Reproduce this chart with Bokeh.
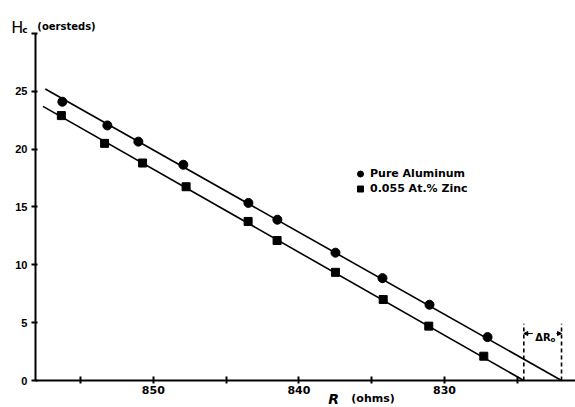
from bokeh.plotting import figure
from bokeh.models import (Range1d, FixedTicker, Label, Legend, LegendItem,
                          Arrow, NormalHead)
from bokeh.embed import file_html
from bokeh.resources import INLINE

# ---- data ----
pure_r = [856.25, 853.16, 851.03, 847.94, 843.47, 841.48, 837.49, 834.26, 831.03, 827.04]
pure_hc = [24.1, 22.05, 20.65, 18.65, 15.35, 13.9, 11.05, 8.85, 6.55, 3.75]
zinc_r = [856.32, 853.35, 850.74, 847.75, 843.49, 841.50, 837.49, 834.21, 831.08, 827.30]
zinc_hc = [22.9, 20.5, 18.8, 16.75, 13.75, 12.1, 9.35, 7.0, 4.7, 2.1]

# fitted straight lines (end points as drawn)
pure_fit_r = [857.42, 821.96]
pure_fit_hc = [25.2, 0.0]
zinc_fit_r = [857.58, 824.55]
zinc_fit_hc = [23.7, 0.0]

# extrapolated intercepts (dashed markers) and their height
dash_r = [824.55, 821.96]
dash_top = 4.9
delta_y = 4.06

x_ticks = [855, 850, 845, 840, 835, 830, 825]
x_tick_labels = {855: "", 850: "850", 845: "", 840: "840", 835: "", 830: "830", 825: ""}
y_ticks = [0, 5, 10, 15, 20, 25, 30]
y_tick_labels = {0: "0", 5: "5", 10: "10", 15: "15", 20: "20", 25: "25", 30: ""}

x_axis_span = (821.0, 858.1)   # drawn extent of the R axis
y_axis_span = (0, 30)          # drawn extent of the Hc axis

FONT = "DejaVu Sans"

p = figure(width=575, height=407, output_backend="svg", toolbar_location=None,
           x_range=Range1d(860.50, 821.00), y_range=Range1d(-2.334, 32.85),
           min_border=0, min_border_left=0, min_border_right=0,
           min_border_top=0, min_border_bottom=0)
p.title.visible = False
p.outline_line_color = None
p.grid.visible = False
p.background_fill_color = "white"
p.border_fill_color = "white"

# axes (placed at data locations so the frame can span the full canvas)
xa = p.xaxis[0]
xa.fixed_location = 0
xa.bounds = x_axis_span
xa.ticker = FixedTicker(ticks=x_ticks)
xa.major_label_overrides = x_tick_labels
xa.axis_line_width = 2
xa.axis_line_color = "black"
xa.major_tick_in = 4
xa.major_tick_out = 3
xa.major_tick_line_width = 2
xa.minor_tick_line_color = None
xa.major_label_standoff = 2
xa.major_label_text_font = FONT
xa.major_label_text_font_style = "bold"
xa.major_label_text_font_size = "11px"
xa.major_label_text_color = "black"

ya = p.yaxis[0]
ya.fixed_location = x_axis_span[1]
ya.bounds = y_axis_span
ya.ticker = FixedTicker(ticks=y_ticks)
ya.major_label_overrides = y_tick_labels
ya.axis_line_width = 2
ya.axis_line_color = "black"
ya.major_tick_in = 2
ya.major_tick_out = 4
ya.major_tick_line_width = 2
ya.minor_tick_line_color = None
ya.major_label_standoff = 4
ya.major_label_text_font = "Liberation Sans"
ya.major_label_text_font_style = "bold"
ya.major_label_text_font_size = "11px"
ya.major_label_text_color = "black"

# fitted lines
p.line(pure_fit_r, pure_fit_hc, line_color="black", line_width=1.6)
p.line(zinc_fit_r, zinc_fit_hc, line_color="black", line_width=1.6)

# points
r1 = p.scatter(pure_r, pure_hc, marker="circle", size=9, color="black")
r2 = p.scatter(zinc_r, zinc_hc, marker="square", size=8, color="black")

# dashed intercept markers
p.segment(x0=dash_r, y0=[0, 0], x1=dash_r, y1=[dash_top, dash_top],
          line_color="black", line_width=1.6, line_dash="4 3")

# delta R0 arrows and label
p.add_layout(Arrow(end=NormalHead(size=4, fill_color="black", line_color="black"),
                   x_start=dash_r[0] - 0.62, y_start=delta_y, x_end=dash_r[0], y_end=delta_y,
                   line_width=1, line_color="black"))
p.add_layout(Arrow(end=NormalHead(size=4, fill_color="black", line_color="black"),
                   x_start=dash_r[1] + 0.35, y_start=delta_y, x_end=dash_r[1], y_end=delta_y,
                   line_width=1, line_color="black"))
p.add_layout(Label(x=823.76, y=3.72, text="ΔR", text_font=FONT, text_font_style="bold",
                   text_font_size="10px", text_color="black", text_baseline="alphabetic"))
p.add_layout(Label(x=822.72, y=3.5, text="o", text_font=FONT, text_font_style="bold",
                   text_font_size="7px", text_color="black", text_baseline="alphabetic"))

# legend
legend = Legend(items=[LegendItem(label="Pure Aluminum", renderers=[r1]),
                       LegendItem(label="0.055 At.% Zinc", renderers=[r2])],
                location=(350, 211))
legend.border_line_color = None
legend.background_fill_alpha = 0
legend.padding = 0
legend.margin = 0
legend.spacing = 0
legend.glyph_width = 20
legend.glyph_height = 15
legend.label_height = 15
legend.label_standoff = 0
legend.label_text_font = FONT
legend.label_text_font_style = "bold"
legend.label_text_font_size = "11px"
legend.label_text_color = "black"
p.add_layout(legend)

# y axis title: H_c (oersteds)
p.add_layout(Label(x=859.76, y=30.52, text="H", text_font=FONT,
                   text_font_size="16px", text_color="black", text_baseline="alphabetic"))
p.add_layout(Label(x=859.0, y=30.3, text="c", text_font=FONT, text_font_style="bold",
                   text_font_size="9px", text_color="black", text_baseline="alphabetic"))
p.add_layout(Label(x=857.97, y=30.6, text="(oersteds)", text_font=FONT, text_font_style="bold",
                   text_font_size="10px", text_color="black", text_baseline="alphabetic"))

# x axis title: R (ohms)
p.add_layout(Label(x=837.98, y=-1.56, text="R", text_font=FONT, text_font_style="bold italic",
                   text_font_size="14px", text_color="black", text_baseline="alphabetic"))
p.add_layout(Label(x=836.4, y=-1.56, text="(ohms)", text_font=FONT, text_font_style="bold",
                   text_font_size="11px", text_color="black", text_baseline="alphabetic"))

open("out.html", "w").write(file_html(p, INLINE))
